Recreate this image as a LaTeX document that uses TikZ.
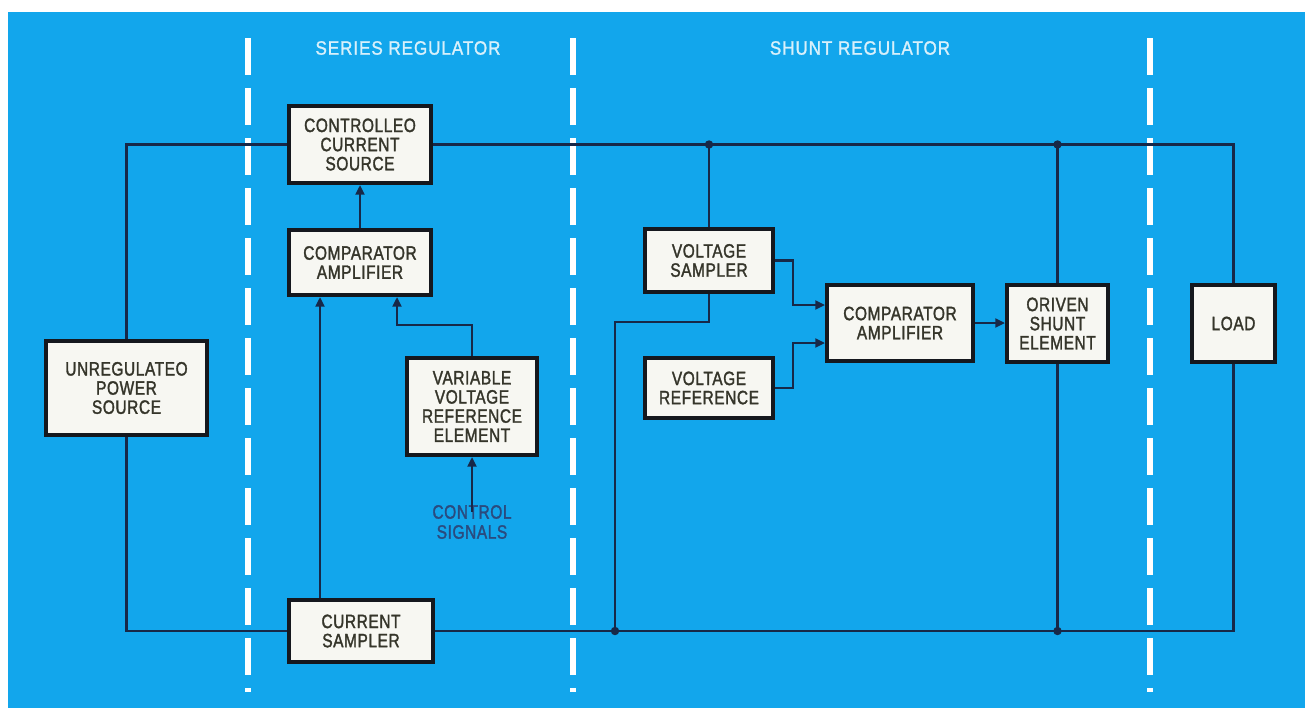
\documentclass[tikz,border=0pt]{standalone}
\usepackage{fontspec}
\setmainfont{Liberation Sans}[FakeStretch=0.8,LetterSpace=3,FakeBold=1.6]
\newfontfamily\titlefont{Liberation Sans}[FakeStretch=0.88,LetterSpace=5,FakeBold=1.4]
\usetikzlibrary{arrows.meta}
\definecolor{bgblue}{HTML}{12A6EC}
\definecolor{titlecol}{HTML}{D8F0FB}
\definecolor{boxtext}{HTML}{35352A}
\definecolor{boxfill}{HTML}{F7F7F2}
\definecolor{boxline}{HTML}{15181E}
\definecolor{wirecol}{HTML}{172848}
\definecolor{ctlcol}{HTML}{2A4A7E}
\tikzset{
  blk/.style={draw=boxline, line width=2.3pt, fill=boxfill, text=boxtext,
    inner sep=0pt, align=center, font={\fontsize{11}{10.9}\selectfont}},
  wire/.style={draw=wirecol, line width=1.35pt},
  arr/.style={wire, -{Triangle[length=5.5pt,width=5pt]}},
  sep/.style={draw=white, line width=3.6pt, dash pattern=on 0.74cm off 0.26cm},
  ttl/.style={text=titlecol, font={\titlefont\fontsize{11}{11}\selectfont}},
  dot/.style={fill=wirecol}
}
\begin{document}
\begin{tikzpicture}[x=0.02cm,y=-0.02cm]
\useasboundingbox (0,0) rectangle (1305,711);
\fill[white] (0,0) rectangle (1305,711);
\fill[bgblue] (8,12) rectangle (1305,708);

% separators
\draw[sep] (248,38) -- (248,692);
\draw[sep] (573,38) -- (573,692);
\draw[sep] (1150,38) -- (1150,692);

% titles
\node[ttl] (t1) at (408,48) {SERIES REGULATOR};
\node[ttl] (t2) at (860,48) {SHUNT REGULATOR};

% blocks
\node[blk, minimum width=2.84cm, minimum height=1.54cm] (ccs) at (360,144.5) {CONTROLLEO\\CURRENT\\SOURCE};
\node[blk, minimum width=2.84cm, minimum height=1.30cm] (sca) at (360,262.5) {COMPARATOR\\AMPLIFIER};
\node[blk, minimum width=3.22cm, minimum height=1.88cm] (ups) at (126.5,388) {UNREGULATEO\\POWER\\SOURCE};
\node[blk, minimum width=2.60cm, minimum height=1.94cm] (vvre) at (472,406.5) {VARIABLE\\VOLTAGE\\REFERENCE\\ELEMENT};
\node[blk, minimum width=2.88cm, minimum height=1.24cm] (cs) at (361,631) {CURRENT\\SAMPLER};
\node[blk, minimum width=2.56cm, minimum height=1.26cm] (vs) at (709,260.5) {VOLTAGE\\SAMPLER};
\node[blk, minimum width=2.56cm, minimum height=1.20cm] (vr) at (709,388) {VOLTAGE\\REFERENCE};
\node[blk, minimum width=2.92cm, minimum height=1.52cm] (shca) at (900,323) {COMPARATOR\\AMPLIFIER};
\node[blk, minimum width=2.02cm, minimum height=1.54cm] (dse) at (1057.5,323.5) {ORIVEN\\SHUNT\\ELEMENT};
\node[blk, minimum width=1.66cm, minimum height=1.54cm] (load) at (1233.5,323.5) {LOAD};

\node[text=ctlcol, align=center, inner sep=0pt, font={\fontsize{11}{11.4}\selectfont}] (ctl) at (472,522) {CONTROL\\SIGNALS};

% coordinates
\coordinate (j1) at (709,144.5);
\coordinate (j2) at (1057.5,144.5);
\coordinate (j3) at (615,631);
\coordinate (j4) at (1057.5,631);
\coordinate (k1) at (615,322);
\coordinate (c1) at (320,0);
\coordinate (c2) at (397,325);
\coordinate (c3) at (793,305);
\coordinate (c4) at (793,343);

% main rails
\draw[wire] (ups.north) |- (ccs.west);
\draw[wire] (ccs.east) -| (load.north);
\draw[wire] (ups.south) |- (cs.west);
\draw[wire] (cs.east) -| (load.south);
\draw[wire] (j1) -- (vs.north);
\draw[wire] (j2) -- (dse.north);
\draw[wire] (j4) -- (dse.south);
\draw[wire] (j3) -- (k1) -| (vs.south);
\fill[dot] (j1) circle[radius=2.4pt];
\fill[dot] (j2) circle[radius=2.4pt];
\fill[dot] (j3) circle[radius=2.4pt];
\fill[dot] (j4) circle[radius=2.4pt];

% series arrows
\draw[arr] (sca.north) -- (ccs.south);
\draw[arr] (cs.north -| c1) -- (sca.south -| c1);
\draw[arr] (vvre.north) |- (c2) -- (c2 |- sca.south);
\draw[arr] ([yshift=-4pt]ctl.north) -- (vvre.south);

% shunt arrows
\draw[arr] (vs.east) -| (c3) -- (c3 -| shca.west);
\draw[arr] (vr.east) -| (c4) -- (c4 -| shca.west);
\draw[arr] (shca.east) -- (shca.east -| dse.west);
\end{tikzpicture}
\end{document}
